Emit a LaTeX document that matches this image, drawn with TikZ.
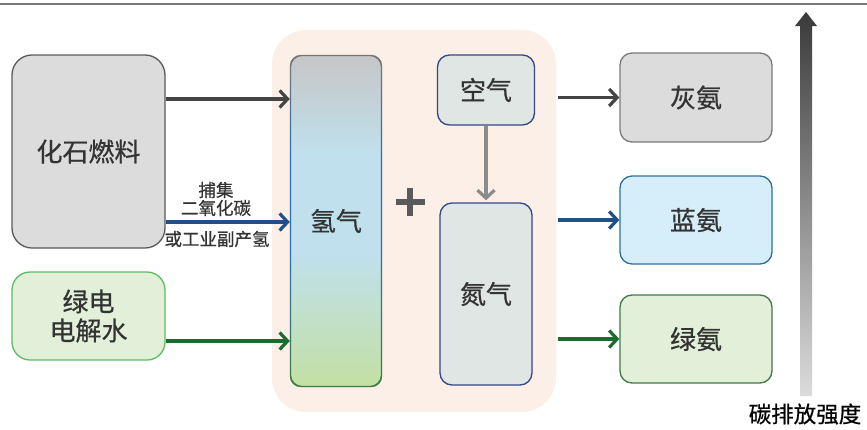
\documentclass[tikz,border=0pt]{standalone}
\usepackage{fontspec}
\setmainfont{Noto Sans CJK SC}[FakeBold=0.6]
\usetikzlibrary{arrows.meta}
\definecolor{txt}{HTML}{333333}
\definecolor{fossilfill}{HTML}{DCDCDC}
\definecolor{fossildraw}{HTML}{5A5A5A}
\definecolor{greenfill}{HTML}{E2EFD9}
\definecolor{greendraw}{HTML}{5DBB63}
\definecolor{greendraw2}{HTML}{3D7A45}
\definecolor{bluefill}{HTML}{D5EEFA}
\definecolor{bluedraw}{HTML}{2E6DA4}
\definecolor{peach}{HTML}{FCEFE8}
\definecolor{airfill}{HTML}{DFE6E3}
\definecolor{airdraw}{HTML}{34458A}
\definecolor{arrgray}{HTML}{444444}
\definecolor{arrblue}{HTML}{1F5282}
\definecolor{arrgreen}{HTML}{1E6B30}
\definecolor{hgray}{HTML}{C6C6C6}
\definecolor{hblue}{HTML}{BFE0EC}
\definecolor{hgreen}{HTML}{C3E0A3}
\definecolor{hbgray}{HTML}{777777}
\definecolor{hbblue}{HTML}{2E6DA4}
\definecolor{hbgreen}{HTML}{3D7A45}
\definecolor{cdark}{HTML}{3A3A3A}
\definecolor{clight}{HTML}{DCDCDC}
\pgfdeclareverticalshading{hfill}{100bp}{color(0bp)=(hgreen); color(25bp)=(hgreen); color(45bp)=(hblue); color(60bp)=(hblue); color(75bp)=(hgray); color(100bp)=(hgray)}
\pgfdeclareverticalshading{hborder}{100bp}{color(0bp)=(hbgreen); color(25bp)=(hbgreen); color(45bp)=(hbblue); color(60bp)=(hbblue); color(75bp)=(hbgray); color(100bp)=(hbgray)}
\pgfdeclareverticalshading{cfill}{100bp}{color(0bp)=(clight); color(25bp)=(clight); color(75bp)=(cdark); color(100bp)=(cdark)}
\tikzset{
  box/.style={draw, line width=1.3pt, rounded corners=12pt, text=txt, font=\fontsize{26}{29}\selectfont, align=center, inner sep=0pt},
  fossilbox/.style={box, fill=fossilfill, draw=fossildraw, rounded corners=20pt},
  arr/.style={line width=3.4pt, -{Straight Barb[length=8pt,width=17pt,line width=3.2pt]}},
  small/.style={text=txt, font=\fontsize{17.5}{20}\selectfont, inner sep=0pt},
}
\begin{document}
\begin{tikzpicture}[x=1pt,y=-1pt]
\useasboundingbox (0,0) rectangle (867,429);
\fill[white] (0,0) rectangle (867,429);
\draw[color=hbgray, line width=2pt] (0,4) -- (867,4);
% left boxes
\node[fossilbox, minimum width=153pt, minimum height=193pt] (fossil) at (88.5,151.5) {化石燃料};
\node[box, fill=greenfill, draw=greendraw, rounded corners=18pt, minimum width=153pt, minimum height=88pt] (elec) at (88.5,316) {绿电\\电解水};
% central background
\node[fill=peach, rounded corners=34pt, minimum width=284pt, minimum height=382pt, inner sep=0pt] (bg) at (414,221) {};
% hydrogen column
\node[shade, shading=hfill, rounded corners=11pt, minimum width=92pt, minimum height=332pt, inner sep=0pt, text=txt, font=\fontsize{26}{29}\selectfont] (hyd) at (336,221) {氢气};
\shade[shading=hborder, even odd rule, rounded corners=11pt]
  (hyd.south west) rectangle (hyd.north east)
  ([shift={(1.3pt,1.3pt)}]hyd.south west) rectangle ([shift={(-1.3pt,-1.3pt)}]hyd.north east);
% plus
\coordinate (plus) at (410,202);
\draw[color=fossildraw, line width=6pt] ([xshift=-14pt]plus) -- ([xshift=15pt]plus);
\draw[color=fossildraw, line width=6pt] ([yshift=14pt]plus) -- ([yshift=-14pt]plus);
% air and nitrogen
\node[box, fill=airfill, draw=airdraw, minimum width=97pt, minimum height=70pt] (air) at (486,90) {空气};
\node[box, fill=airfill, draw=airdraw, minimum width=92pt, minimum height=182pt] (nit) at (486,294) {氮气};
\draw[arr, color=gray!90] (air.south) -- ([yshift=2pt]nit.north);
% right boxes
\node[box, fill=fossilfill, draw=fossildraw!80, minimum width=152pt, minimum height=89pt] (grayam) at (696,97.5) {灰氨};
\node[box, fill=bluefill, draw=bluedraw, minimum width=152pt, minimum height=88pt] (blueam) at (696,220) {蓝氨};
\node[box, fill=greenfill, draw=greendraw2, minimum width=152pt, minimum height=88pt] (greenam) at (696,339) {绿氨};
% input arrows
\coordinate (ya) at (0,99);
\coordinate (yb) at (0,222);
\coordinate (yc) at (0,341);
\draw[arr, color=arrgray] (fossil.east |- ya) -- (hyd.west |- ya);
\draw[arr, color=arrblue] (fossil.east |- yb) -- (hyd.west |- yb);
\draw[arr, color=arrgreen] (elec.east |- yc) -- (hyd.west |- yc);
% labels
\node[small] (l1) at (216,190) {捕集};
\node[small] (l2) at (216,208) {二氧化碳};
\node[small] (l3) at (217,239) {或工业副产氢};
% output arrows
\draw[arr, color=arrgray] ([xshift=2pt]bg.east |- grayam.west) -- (grayam.west);
\draw[arr, color=arrblue] ([xshift=2pt]bg.east |- blueam.west) -- (blueam.west);
\draw[arr, color=arrgreen] ([xshift=2pt]bg.east |- greenam.west) -- (greenam.west);
% carbon intensity arrow
\shade[shading=cfill] (800,396) -- (800,26) -- (795,26) -- (806,12) -- (817,26) -- (812,26) -- (812,396) -- cycle;
\node[text=black, font=\fontsize{22.5}{25}\selectfont, inner sep=0pt] (ci) at (805,414) {碳排放强度};
\end{tikzpicture}
\end{document}
